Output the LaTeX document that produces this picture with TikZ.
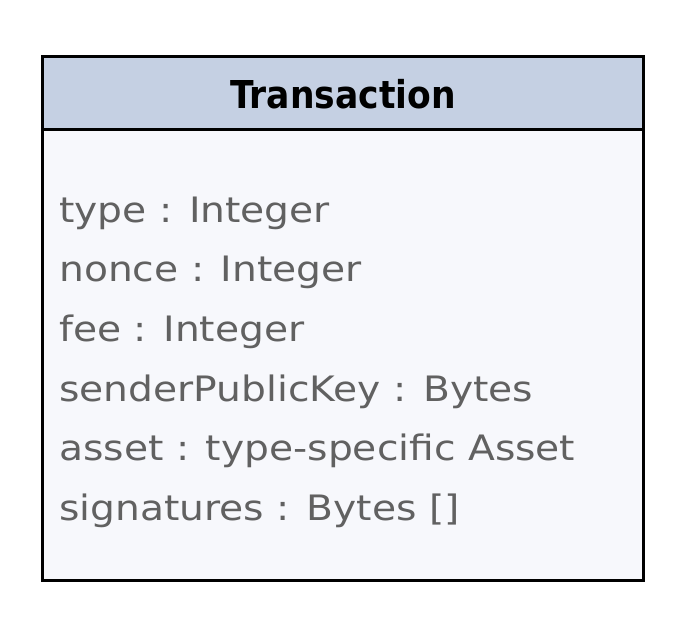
\documentclass[tikz,border=0pt]{standalone}
\usepackage{fontspec}
\newfontfamily\bodyfont[FakeStretch=1.12]{DejaVu Sans}
\newfontfamily\titlefont[FakeStretch=0.9]{DejaVu Sans Bold}
\definecolor{hdrfill}{HTML}{C5D0E3}
\definecolor{bodyfill}{HTML}{F7F8FC}
\definecolor{fieldgray}{HTML}{616161}
\tikzset{
  frame/.style={draw=black, line width=2.25pt},
  field/.style={anchor=base west, inner sep=0pt, text=fieldgray, font=\bodyfont\fontsize{26.25pt}{30pt}\selectfont},
  title/.style={anchor=base, inner sep=0pt, text=black, font=\titlefont\fontsize{28.8pt}{32pt}\selectfont}
}
\begin{document}
\begin{tikzpicture}[x=0.75pt, y=-0.75pt]
\useasboundingbox (0,0) rectangle (677,624);
\fill[white] (0,0) rectangle (677,624);
\fill[bodyfill] (42,130) rectangle (643,580);
\fill[hdrfill] (42,57) rectangle (643,130);
\draw[frame] (42,57) rectangle (643,580);
\draw[frame] (42,130) -- (643,130);
\node[title] (t) at (343,109) {Transaction};
\node[field] (f1) at (59,222) {type : Integer};
\node[field] (f2) at (59,281.7) {nonce : Integer};
\node[field] (f3) at (59,341.4) {fee : Integer};
\node[field] (f4) at (59,401) {senderPublicKey : Bytes};
\node[field] (f5) at (59,460.8) {asset : type-specific Asset};
\node[field] (f6) at (59,520.5) {signatures : Bytes []};
\end{tikzpicture}
\end{document}
